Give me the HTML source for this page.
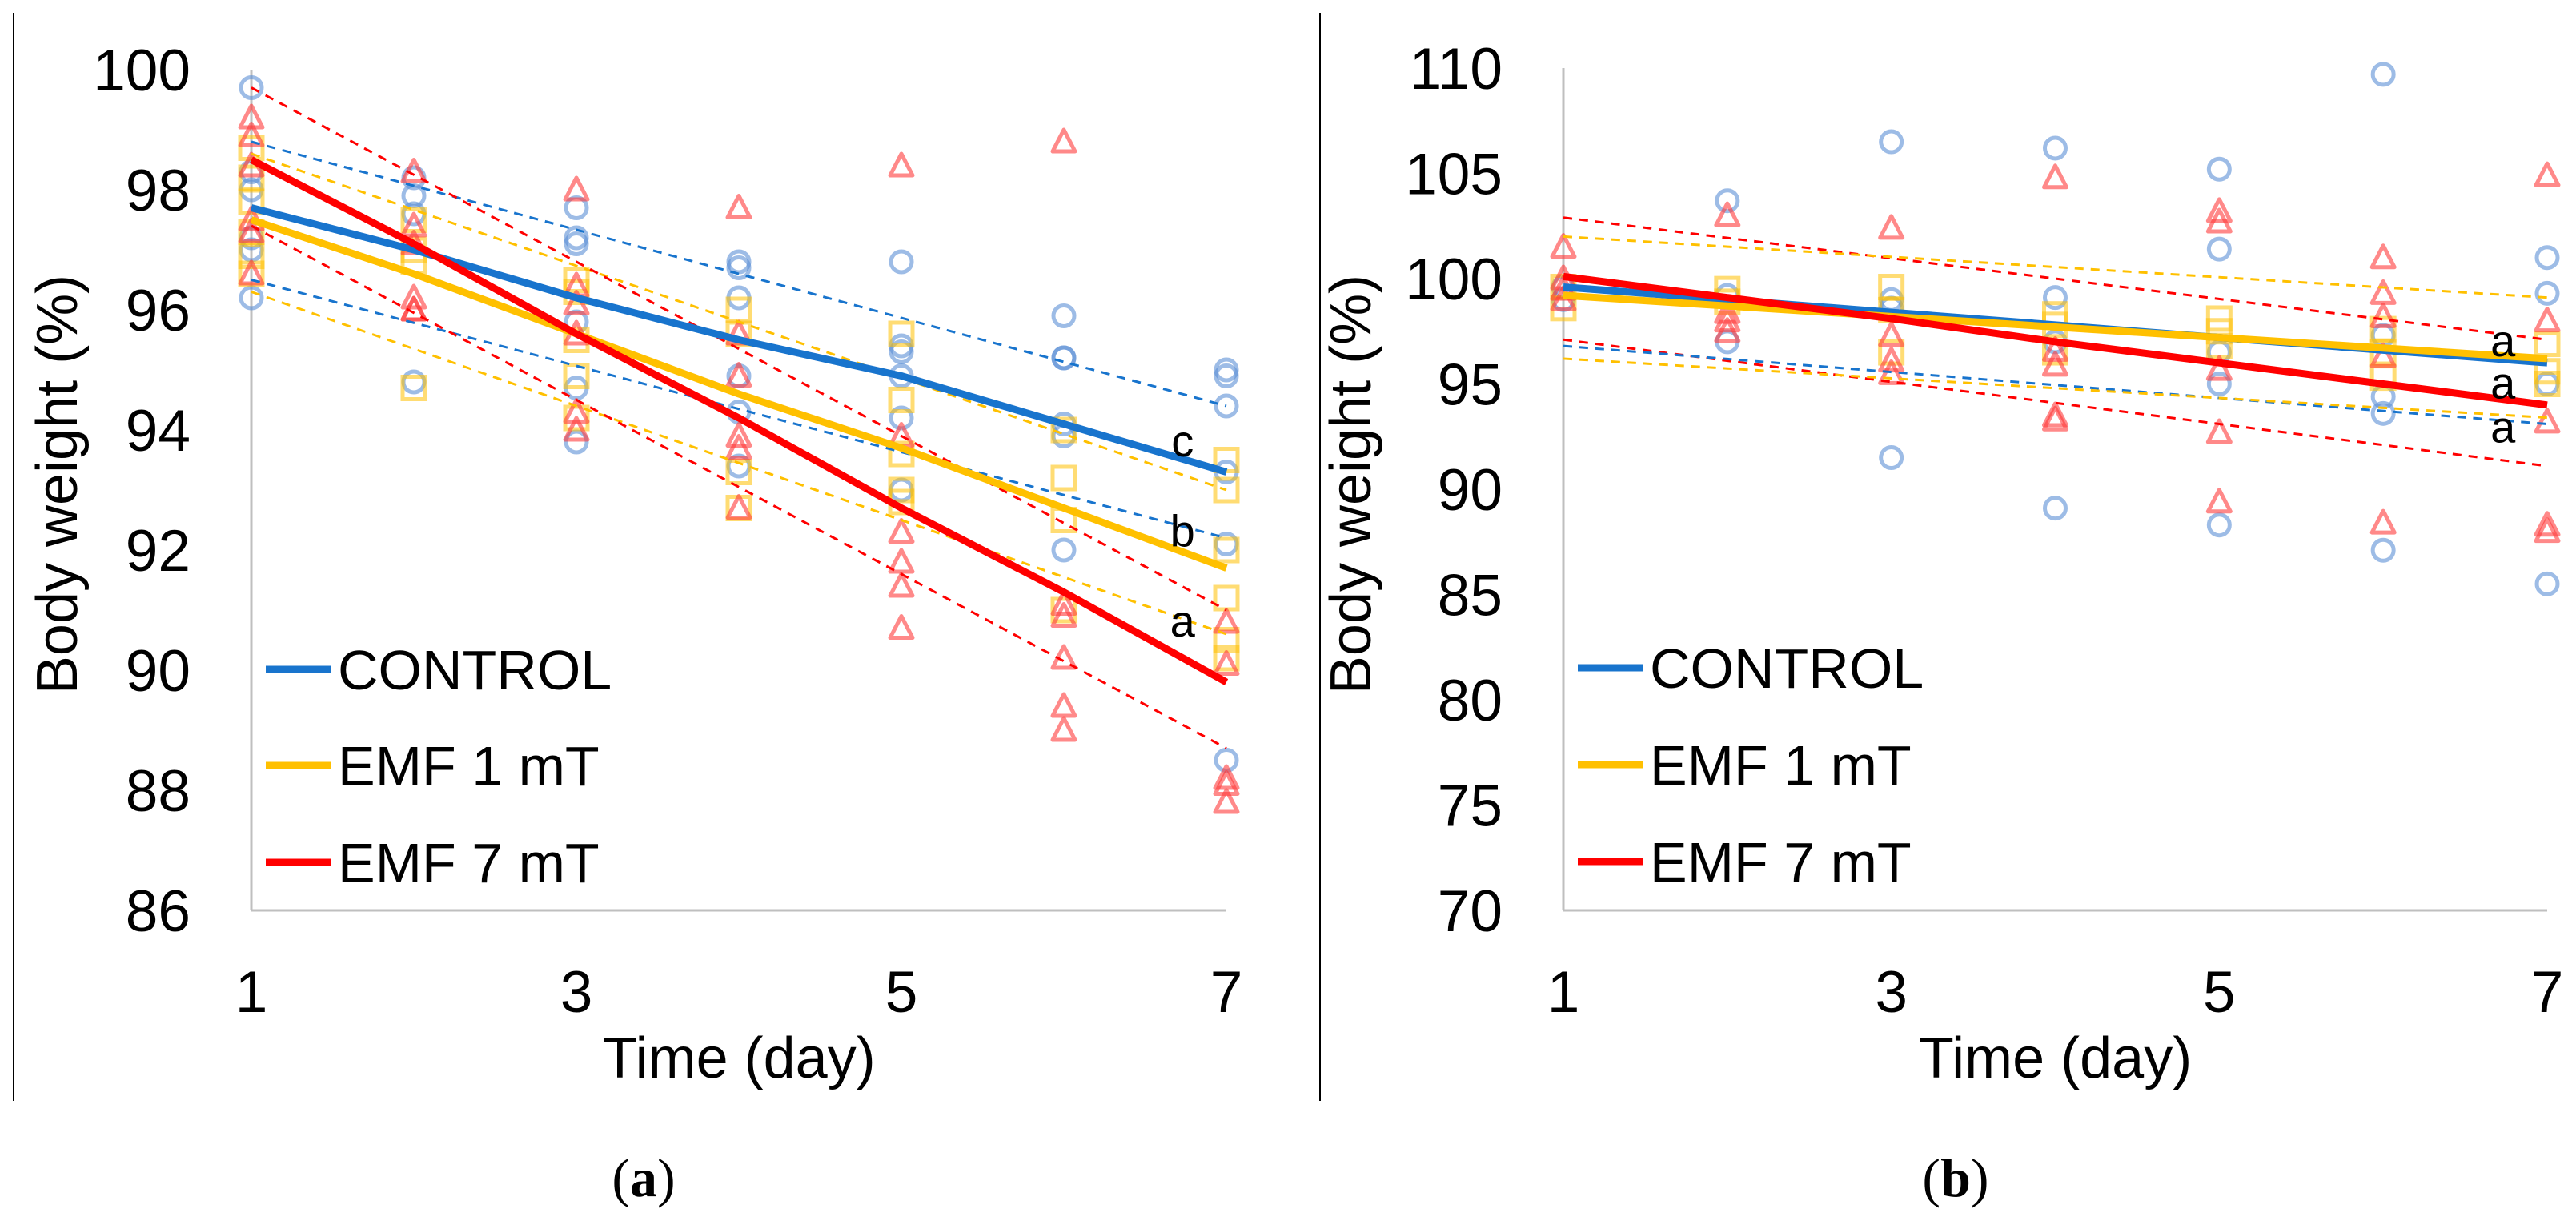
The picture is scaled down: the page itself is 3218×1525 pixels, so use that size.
<!DOCTYPE html>
<html><head><meta charset="utf-8"><style>
html,body{margin:0;padding:0;background:#fff;}
svg{display:block;font-family:"Liberation Sans",Arial,sans-serif;}
</style></head><body>
<svg id="fig" width="3218" height="1525" viewBox="0 0 3218 1525" xmlns="http://www.w3.org/2000/svg">
<rect width="3218" height="1525" fill="#fff"/>
<line x1="17" y1="16" x2="17" y2="1375" stroke="#000" stroke-width="2"/>
<line x1="1649" y1="16" x2="1649" y2="1375" stroke="#000" stroke-width="2"/>
<g id="pa"></g>
<g id="pb"></g>
<text x="804" y="1494" font-family="'Liberation Serif',serif" font-size="68" text-anchor="middle">(<tspan font-weight="bold">a</tspan>)</text>
<text x="2443" y="1494" font-family="'Liberation Serif',serif" font-size="68" text-anchor="middle">(<tspan font-weight="bold">b</tspan>)</text>
</svg>
<script>
const days=[1,2,3,4,5,6,7];
// Panel A data
const aTicks=[100,98,96,94,92,90,88,86];
const aCtrlPts=[[99.7,98.3,97.2,97.0,96.2,98.0],[98.2,97.9,97.6,94.8],[97.7,97.1,97.2,95.8,93.8,94.7],[96.8,96.7,96.2,94.9,94.3,93.4],[96.8,95.4,95.3,94.9,94.2,93.0],[95.9,95.2,95.2,94.1,93.9,92.0],[95.0,94.9,94.4,93.3,92.1,88.5]];
const aEmf1Pts=[[98.7,98.2,97.8,97.3,96.9,96.6],[97.5,97.0,96.8,94.7],[96.5,96.3,94.9,94.2,95.5],[95.6,96.0,93.3,92.7],[95.6,94.5,93.6,93.0,92.8],[94.0,93.2,92.5,91.0],[93.5,93.0,92.0,91.2,90.5,90.2]];
const aEmf7Pts=[[99.2,98.9,98.4,97.5,97.3,96.6],[98.3,97.4,97.1,96.2,96.0,96.0],[98.0,96.4,96.1,95.6,94.3,94.0],[97.7,95.6,94.9,93.9,93.7,92.7],[98.4,93.9,92.3,91.8,91.4,90.7],[98.8,91.1,90.9,90.2,89.4,89.0],[90.8,90.1,88.2,88.1,87.8]];
const aCtrlMean=[97.7,97.0,96.2,95.5,94.9,94.1,93.3];
const aEmf1Mean=[97.5,96.6,95.6,94.6,93.7,92.7,91.7];
const aEmf7Mean=[98.5,97.1,95.6,94.2,92.7,91.3,89.8];
const aBands=[["#1874CD",98.8,94.4],["#1874CD",96.5,92.2],["#FFC000",98.6,93.0],["#FFC000",96.3,90.6],["#FF0000",99.7,91.0],["#FF0000",97.4,88.7]];
const aLetters=[["c",93.8],["b",92.3],["a",90.8]];
// Panel B data
const bTicks=[110,105,100,95,90,85,80,75,70];
const bCtrlPts=[[99.6,99.0],[103.7,99.2,97.0],[106.5,99.0,98.6,91.5],[106.2,99.1,97.0,89.1],[105.2,101.4,96.5,95.0,88.3],[109.7,97.3,94.4,93.6,87.1],[101.0,99.3,95.0,85.5]];
const bEmf1Pts=[[99.6,98.6],[99.5,98.9],[99.6,98.5,96.5],[98.3,97.8,96.5],[98.1,97.5,96.8],[97.6,96.5,95.3],[96.9,95.6,95.0]];
const bEmf7Pts=[[101.5,100.0,99.5,99.0],[103.0,98.4,98.0,97.5],[102.4,97.3,96.1,95.5],[104.8,96.6,95.9,93.5,93.3],[103.2,102.7,95.7,92.7,89.4],[101.0,99.3,98.2,96.3,88.4],[104.9,98.0,93.2,88.3,88.0]];
const bCtrlMean=[99.6,99.0,98.4,97.8,97.2,96.6,96.0];
const bEmf1Mean=[99.2,98.7,98.2,97.7,97.2,96.7,96.2];
const bEmf7Mean=[100.1,99.1,98.1,97.0,96.0,95.0,94.0];
const bBands=[["#FF0000",102.9,97.1],["#FFC000",102.0,99.1],["#FF0000",97.1,91.1],["#1874CD",96.8,93.1],["#FFC000",96.2,93.4]];
const bLetters=[["a",97.0],["a",95.0],["a",92.9]];

const NS="http://www.w3.org/2000/svg";
function mk(tag,attrs,parent){const e=document.createElementNS(NS,tag);for(const k in attrs)e.setAttribute(k,attrs[k]);parent.appendChild(e);return e;}

function panel(g,cfg){
  const X=d=>cfg.x0+(d-1)*(cfg.x1-cfg.x0)/6;
  const Y=v=>cfg.y0+(cfg.vmax-v)*(cfg.y1-cfg.y0)/(cfg.vmax-cfg.vmin);
  let e;
  e=mk('line',{x1:cfg.x0,y1:cfg.y0,x2:cfg.x0,y2:cfg.y1,stroke:'#BFBFBF','stroke-width':3},g);
  
  
  e=mk('line',{x1:cfg.x0,y1:cfg.y1,x2:cfg.x1,y2:cfg.y1,stroke:'#BFBFBF','stroke-width':3},g);
  
  
  cfg.ticks.forEach(t=>{
    e=mk('text',{x:cfg.x0-76,y:Y(t)+26,'font-size':73,'text-anchor':'end'},g);e.textContent=t;
    
    
  });
  [1,3,5,7].forEach(d=>{
    e=mk('text',{x:X(d),y:1264,'font-size':73,'text-anchor':'middle'},g);e.textContent=d;
    
    
  });
  e=mk('text',{x:(cfg.x0+cfg.x1)/2,y:1346,'font-size':72,'text-anchor':'middle'},g);e.textContent='Time (day)';
  
  
  e=mk('text',{x:0,y:0,'font-size':72,'text-anchor':'middle',transform:`translate(${cfg.ytx},605) rotate(-90)`},g);e.textContent='Body weight (%)';
  
  
  cfg.ctrl.forEach((arr,i)=>arr.forEach(v=>{
    e=mk('circle',{cx:X(days[i]),cy:Y(v),r:13,fill:'none',stroke:'#5B8FD5','stroke-width':5,'stroke-opacity':0.6},g);
    
    
  }));
  cfg.emf1.forEach((arr,i)=>arr.forEach(v=>{
    const x=X(days[i]),y=Y(v);
    e=mk('rect',{x:x-14,y:y-14,width:28,height:28,fill:'none',stroke:'#FFC000','stroke-width':5,'stroke-opacity':0.55},g);
    
    
  }));
  cfg.emf7.forEach((arr,i)=>arr.forEach(v=>{
    const x=X(days[i]),y=Y(v);
    e=mk('polygon',{points:`${x},${y-15} ${x-14},${y+12} ${x+14},${y+12}`,fill:'none',stroke:'#FF3B3B','stroke-width':5,'stroke-linejoin':'round','stroke-opacity':0.6},g);
    
    
  }));
  cfg.bands.forEach(b=>{
    e=mk('line',{x1:X(1),y1:Y(b[1]),x2:X(7),y2:Y(b[2]),stroke:b[0],'stroke-width':3,'stroke-dasharray':'11 9'},g);
    
    
  });
  [[cfg.mC,'#1874CD','control-mean-line'],[cfg.m1,'#FFC000','emf1-mean-line'],[cfg.m7,'#FF0000','emf7-mean-line']].forEach(s=>{
    e=mk('polyline',{points:s[0].map((v,i)=>X(days[i])+','+Y(v)).join(' '),fill:'none',stroke:s[1],'stroke-width':9,'stroke-linejoin':'round'},g);
    
    
  });
  cfg.letters.forEach(l=>{
    e=mk('text',{x:X(6.73),y:Y(l[1])+18,'font-size':56,'text-anchor':'middle'},g);e.textContent=l[0];
    
    
  });
  [['CONTROL','#1874CD'],['EMF 1 mT','#FFC000'],['EMF 7 mT','#FF0000']].forEach((L,i)=>{
    const y=cfg.legY[i];
    e=mk('line',{x1:cfg.x0+18,y1:y,x2:cfg.x0+100,y2:y,stroke:L[1],'stroke-width':9},g);
    
    
    e=mk('text',{x:cfg.x0+108,y:y+25,'font-size':70},g);e.textContent=L[0];
    
    
  });
}
panel(document.getElementById('pa'),{x0:314,x1:1532,y0:87,y1:1137,vmax:100,vmin:86,ticks:aTicks,ytx:96,
  ctrl:aCtrlPts,emf1:aEmf1Pts,emf7:aEmf7Pts,bands:aBands,mC:aCtrlMean,m1:aEmf1Mean,m7:aEmf7Mean,letters:aLetters,legY:[836,956,1077]});
panel(document.getElementById('pb'),{x0:1953,x1:3182,y0:85,y1:1137,vmax:110,vmin:70,ticks:bTicks,ytx:1712,
  ctrl:bCtrlPts,emf1:bEmf1Pts,emf7:bEmf7Pts,bands:bBands,mC:bCtrlMean,m1:bEmf1Mean,m7:bEmf7Mean,letters:bLetters,legY:[834,955,1076]});
</script>
</body></html>
